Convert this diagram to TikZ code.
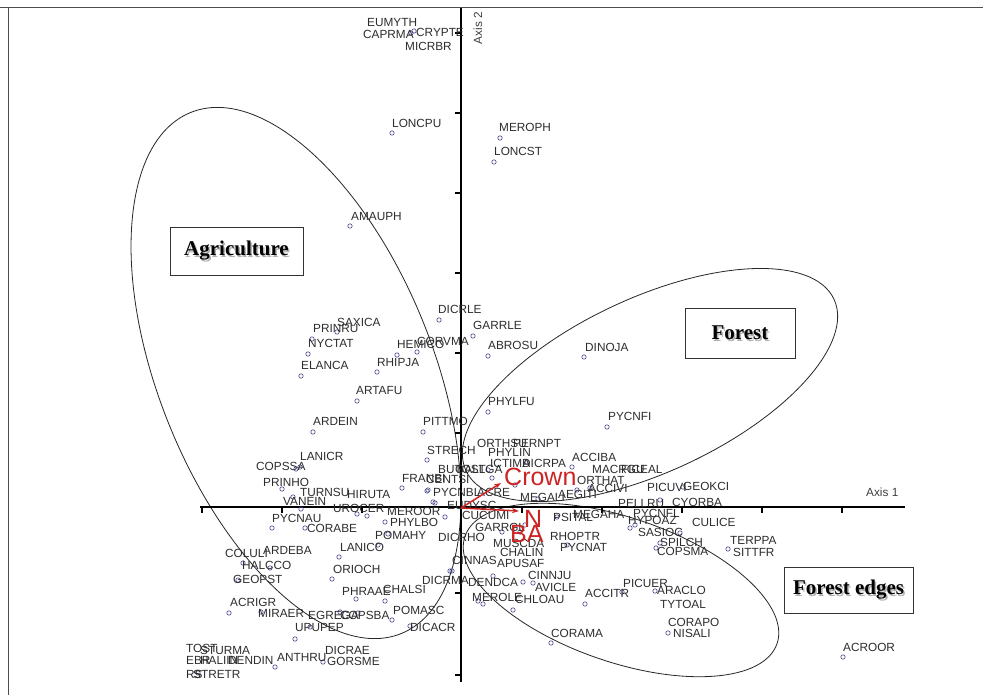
\documentclass[tikz,border=0pt]{standalone}
\usepackage{fontspec}
\setmainfont{Liberation Sans}
\newfontfamily\serifbf{Liberation Serif}
\usetikzlibrary{arrows.meta}
\definecolor{ptblue}{RGB}{70,70,140}
\definecolor{lblgray}{RGB}{45,45,45}
\definecolor{envred}{RGB}{205,35,35}
\tikzset{
  lbl/.style={anchor=west,inner sep=0pt,text height=8.4pt,text depth=0pt,text=lblgray,font=\fontsize{11.8}{12}\selectfont},
  pntstyle/.style={draw=ptblue,line width=0.6pt},
  ellstyle/.style={draw=black!85,line width=0.8pt},
  axisline/.style={line width=1.6pt,black},
  tickline/.style={line width=1.2pt,black},
  areabox/.style={draw=black!80,line width=0.8pt,inner sep=0pt,font=\serifbf\bfseries\fontsize{21}{22}\selectfont},
  envarrow/.style={envred,line width=1.5pt,-{Stealth[length=7pt,width=5pt]}},
  envlbl/.style={anchor=west,inner sep=0pt,text=envred,font=\fontsize{25}{25}\selectfont}
}
\newcommand\lab[3]{\node[lbl] (L#3) at (#1,#2) {#3};}
\newcommand\pnt[2]{\draw[pntstyle] (#1,#2) circle (2.2);}
\begin{document}
\begin{tikzpicture}[x=1pt,y=-1pt]
\useasboundingbox (0,0) rectangle (983,695);
\fill[white] (0,0) rectangle (983,695);
% frame
\draw[black!70,line width=1pt] (0,8) -- (983,8);
\draw[black!70,line width=1pt] (8,8) -- (8,695);
% ellipses
\draw[ellstyle,rotate around={-68:(296,373)}] (296,373) ellipse [x radius=281pt,y radius=137pt];
\draw[ellstyle,rotate around={25:(650,385)}] (650,385) ellipse [x radius=203pt,y radius=87pt];
\draw[ellstyle,rotate around={-19:(621,590)}] (621,590) ellipse [x radius=165pt,y radius=72pt];
% axes
\coordinate (vtop) at (461,8);
\coordinate (vbot) at (461,682);
\coordinate (hleft) at (200,507);
\coordinate (hright) at (905,507);
\draw[axisline] (vtop) -- (vbot);
\draw[axisline] (hleft) -- (hright);
\foreach \ty in {33,113,193,273,353,433,593,675} \draw[tickline] (461,\ty) -- (455,\ty);
\foreach \tx in {202,282,362,522,602,682,762,842} \draw[tickline] (\tx,507) -- (\tx,513);
\node[lbl,text=black!75] (axis1) at (866,492) {Axis 1};
\node[inner sep=0pt,text=black!75,rotate=90,font=\fontsize{11.8}{12}\selectfont] (axis2) at (478,28) {Axis 2};
% points
\foreach \px/\py in {411/33,414/31,392/133,500/138,494/162,350/226,
 439/320,473/336,488/356,584/357,337/332,312/339,308/354,301/376,397/355,417/352,377/372,357/401,313/432,423/432,488/412,607/427,427/460,
 300/467,296/469,282/489,293/497,301/509,272/528,305/528,357/514,367/516,385/522,402/488,427/491,388/534,339/557,378/545,
 488/470,492/478,515/485,527/462,538/499,590/488,577/490,557/517,435/503,428/490,445/517,502/532,520/532,525/525,433/502,572/467,
 683/487,660/500,630/528,635/525,660/543,680/533,656/548,728/549,843/657,567/545,
 452/571,523/582,533/583,493/576,478/601,483/604,513/610,585/604,622/592,655/591,668/633,551/643,
 243/563,270/568,238/580,229/613,261/612,340/612,358/613,295/639,310/627,356/599,385/601,392/620,410/626,450/571,332/579,323/662,275/667,198/673}
 {\pnt{\px}{\py}}
% labels
\lab{367}{22}{EUMYTH}
\lab{363}{34}{CAPRMA}
\lab{416}{32}{CRYPTE}
\lab{405}{46}{MICRBR}
\lab{392}{123}{LONCPU}
\lab{499}{127}{MEROPH}
\lab{494}{151}{LONCST}
\lab{351}{216}{AMAUPH}
\lab{438}{309}{DICRLE}
\lab{473}{325}{GARRLE}
\lab{488}{345}{ABROSU}
\lab{585}{347}{DINOJA}
\lab{337}{322}{SAXICA}
\lab{313}{328}{PRINRU}
\lab{308}{343}{NYCTAT}
\lab{301}{365}{ELANCA}
\lab{397}{344}{HEMICO}
\lab{417}{341}{CORVMA}
\lab{377}{362}{RHIPJA}
\lab{356}{390}{ARTAFU}
\lab{313}{421}{ARDEIN}
\lab{423}{421}{PITTMO}
\lab{488}{401}{PHYLFU}
\lab{608}{416}{PYCNFI}
\lab{427}{450}{STRECH}
\lab{477}{443}{ORTHSU}
\lab{513}{443}{PERNPT}
\lab{488}{452}{PHYLIN}
\lab{490}{463}{ICTIMA}
\lab{522}{463}{DICRPA}
\lab{572}{457}{ACCIBA}
\lab{592}{469}{MACRGU}
\lab{621}{469}{FICEAL}
\lab{438}{469}{BUTOST}
\lab{455}{469}{GALLGA}
\lab{300}{456}{LANICR}
\lab{256}{466}{COPSSA}
\lab{402}{478}{FRANBI}
\lab{426}{479}{CENTSI}
\lab{577}{480}{ORTHAT}
\lab{588}{488}{ACCIVI}
\lab{647}{487}{PICUVI}
\lab{683}{486}{GEOKCI}
\lab{263}{482}{PRINHO}
\lab{300}{492}{TURNSU}
\lab{347}{494}{HIRUTA}
\lab{283}{501}{VANEIN}
\lab{433}{492}{PYCNBL}
\lab{477}{492}{ACRE}
\lab{520}{497}{MEGALI}
\lab{558}{494}{AEGITI}
\lab{333}{508}{UROCER}
\lab{387}{511}{MEROOR}
\lab{447}{505}{EUDYSC}
\lab{618}{503}{PELLRU}
\lab{672}{502}{CYORBA}
\lab{462}{515}{CUCUMI}
\lab{553}{517}{PSITAL}
\lab{573}{514}{MEGAHA}
\lab{633}{513}{PYCNFL}
\lab{628}{520}{HYPOAZ}
\lab{692}{522}{CULICE}
\lab{390}{522}{PHYLBO}
\lab{272}{518}{PYCNAU}
\lab{307}{528}{CORABE}
\lab{475}{527}{GARRGL}
\lab{638}{532}{SASIOC}
\lab{375}{535}{POMAHY}
\lab{438}{537}{DICRHO}
\lab{550}{536}{RHOPTR}
\lab{730}{540}{TERPPA}
\lab{660}{542}{SPILCH}
\lab{493}{543}{MUSCDA}
\lab{340}{547}{LANICO}
\lab{560}{547}{PYCNAT}
\lab{657}{551}{COPSMA}
\lab{733}{552}{SITTFR}
\lab{500}{552}{CHALIN}
\lab{225}{553}{COLULI}
\lab{263}{550}{ARDEBA}
\lab{452}{560}{CINNAS}
\lab{497}{563}{APUSAF}
\lab{242}{565}{HALCCO}
\lab{333}{569}{ORIOCH}
\lab{528}{575}{CINNJU}
\lab{233}{579}{GEOPST}
\lab{422}{580}{DICRMA}
\lab{468}{582}{DENDCA}
\lab{535}{587}{AVICLE}
\lab{342}{591}{PHRAAE}
\lab{383}{589}{CHALSI}
\lab{623}{583}{PICUER}
\lab{657}{590}{ARACLO}
\lab{585}{593}{ACCITR}
\lab{472}{597}{MEROLE}
\lab{515}{599}{CHLOAU}
\lab{230}{602}{ACRIGR}
\lab{660}{604}{TYTOAL}
\lab{393}{610}{POMASC}
\lab{258}{613}{MIRAER}
\lab{308}{615}{EGREGA}
\lab{340}{615}{COPSBA}
\lab{668}{622}{CORAPO}
\lab{295}{627}{UPUPEP}
\lab{410}{627}{DICACR}
\lab{551}{633}{CORAMA}
\lab{673}{633}{NISALI}
\lab{843}{647}{ACROOR}
\lab{186}{648}{TOST}
\lab{200}{650}{STURMA}
\lab{325}{650}{DICRAE}
\lab{186}{660}{EBR}
\lab{200}{660}{HALIIN}
\lab{228}{660}{DENDIN}
\lab{277}{657}{ANTHRU}
\lab{327}{661}{GORSME}
\lab{186}{674}{RS}
\lab{193}{674}{STRETR}
% environmental arrows
\coordinate (origin) at (461,508);
\coordinate (crowntip) at (501,483);
\coordinate (batip) at (519,511);
\draw[envarrow] (origin) -- (crowntip);
\draw[envarrow] (origin) -- (batip);
\node[envlbl] (crown) at (504,477) {Crown};
\node[envlbl] (nlab) at (524,519) {N};
\node[envlbl] (ba) at (510,534) {BA};
% area boxes
\node[areabox,minimum width=133pt,minimum height=48pt] (agri) at (236.5,251) {};
\node[inner sep=0pt,text=black!30,font=\serifbf\bfseries\fontsize{21}{22}\selectfont] (agrish) at (238,252.5) {Agriculture};
\node[inner sep=0pt,font=\serifbf\bfseries\fontsize{21}{22}\selectfont] (agrit) at (236.5,251) {Agriculture};
\node[areabox,minimum width=110pt,minimum height=50pt] (forest) at (740,333) {};
\node[inner sep=0pt,text=black!30,font=\serifbf\bfseries\fontsize{21}{22}\selectfont] (forsh) at (741.5,334.5) {Forest};
\node[inner sep=0pt,font=\serifbf\bfseries\fontsize{21}{22}\selectfont] (fort) at (740,333) {Forest};
\node[areabox,minimum width=129pt,minimum height=46pt] (edges) at (848.5,590) {};
\node[inner sep=0pt,text=black!30,font=\serifbf\bfseries\fontsize{21}{22}\selectfont] (edsh) at (850,591.5) {Forest edges};
\node[inner sep=0pt,font=\serifbf\bfseries\fontsize{21}{22}\selectfont] (edt) at (848.5,590) {Forest edges};
\end{tikzpicture}
\end{document}
